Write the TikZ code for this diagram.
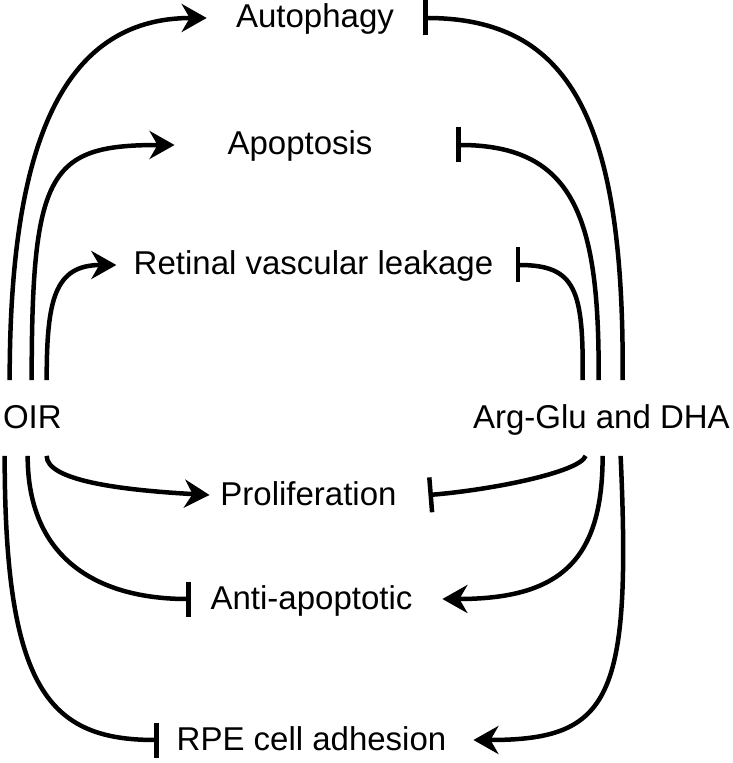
\documentclass[tikz,border=0pt]{standalone}
\usepackage{fontspec}
\setmainfont{Liberation Sans}
\usetikzlibrary{arrows.meta}
\tikzset{
  every node/.style={
    font=\fontsize{16.5pt}{20pt}\selectfont
  },
  effect/.style={
    inner sep=0pt,
    text height=12pt,
    text depth=2pt
  },
  source/.style={
    effect,
    minimum height=37.5pt
  },
  promote/.style={
    line width=2.25pt,
    -{Stealth[length=12.5pt,width=14pt,inset=4pt]}
  },
  inhibit/.style={
    line width=2.25pt,
    -{Bar[width=17.5pt]}
  }
}

\begin{document}
\begin{tikzpicture}[x=0.5pt,y=-0.5pt]
\useasboundingbox (0,0) rectangle (732,763);

\node [source] (oir) at (32.4,418) {OIR};
\node [source] (arg) at (601.4,418) {Arg-Glu and DHA};

\node [effect] (autophagy) at (315,18) {Autophagy};
\node [effect] (apoptosis) at (300,145) {Apoptosis};
\node [effect] (leakage) at (313.5,265) {Retinal vascular leakage};
\node [effect] (prolif) at (308.5,495) {Proliferation};
\node [effect] (antiapop) at (311.5,599) {Anti-apoptotic};
\node [effect] (rpe) at (311.5,740) {RPE cell adhesion};

\draw [promote] ([shift={(7,0)}]oir.north west) .. controls +(0,-230.5) and +(-147,0) .. ([shift={(-29,0)}]autophagy.west);
\draw [promote] ([shift={(29,0)}]oir.north west) .. controls +(0,-210) and +(-125,0) .. ([shift={(-52.6,0)}]apoptosis.west);
\draw [promote] ([shift={(44,0)}]oir.north west) .. controls +(0,-80) and +(-62,0) .. ([shift={(-17,0)}]leakage.west);
\draw [promote] ([shift={(44,0)}]oir.south west) .. controls +(0,24.5) and +(-90,-5) .. ([shift={(-10.5,0)}]prolif.west);
\draw [inhibit] ([shift={(25,0)}]oir.south west) .. controls +(0,104.5) and +(-91,0) .. ([shift={(-19.6,0)}]antiapop.west);
\draw [inhibit] ([shift={(2,0)}]oir.south west) .. controls +(0,234.5) and +(-109,0) .. ([shift={(-17.7,0)}]rpe.west);

\draw [inhibit] ([shift={(150,0)}]arg.north west) .. controls +(2,-260.5) and +(147,0) .. ([shift={(29,0)}]autophagy.east);
\draw [inhibit] ([shift={(126,0)}]arg.north west) .. controls +(1,-160.5) and +(119,0) .. ([shift={(83.6,0)}]apoptosis.east);
\draw [inhibit] ([shift={(110,0)}]arg.north west) .. controls +(1,-90.5) and +(60,0) .. ([shift={(22,0)}]leakage.east);
\draw [inhibit] ([shift={(113,0)}]arg.south west) .. controls +(-6,16.5) and +(62,-5) .. ([shift={(31.5,0)}]prolif.east);
\draw [promote] ([shift={(130,0)}]arg.south west) .. controls +(0,104.5) and +(118,0) .. ([shift={(29.6,0)}]antiapop.east);
\draw [promote] ([shift={(148,0)}]arg.south west) .. controls +(11,244.5) and +(137,0) .. ([shift={(26.7,0)}]rpe.east);

\end{tikzpicture}
\end{document}
